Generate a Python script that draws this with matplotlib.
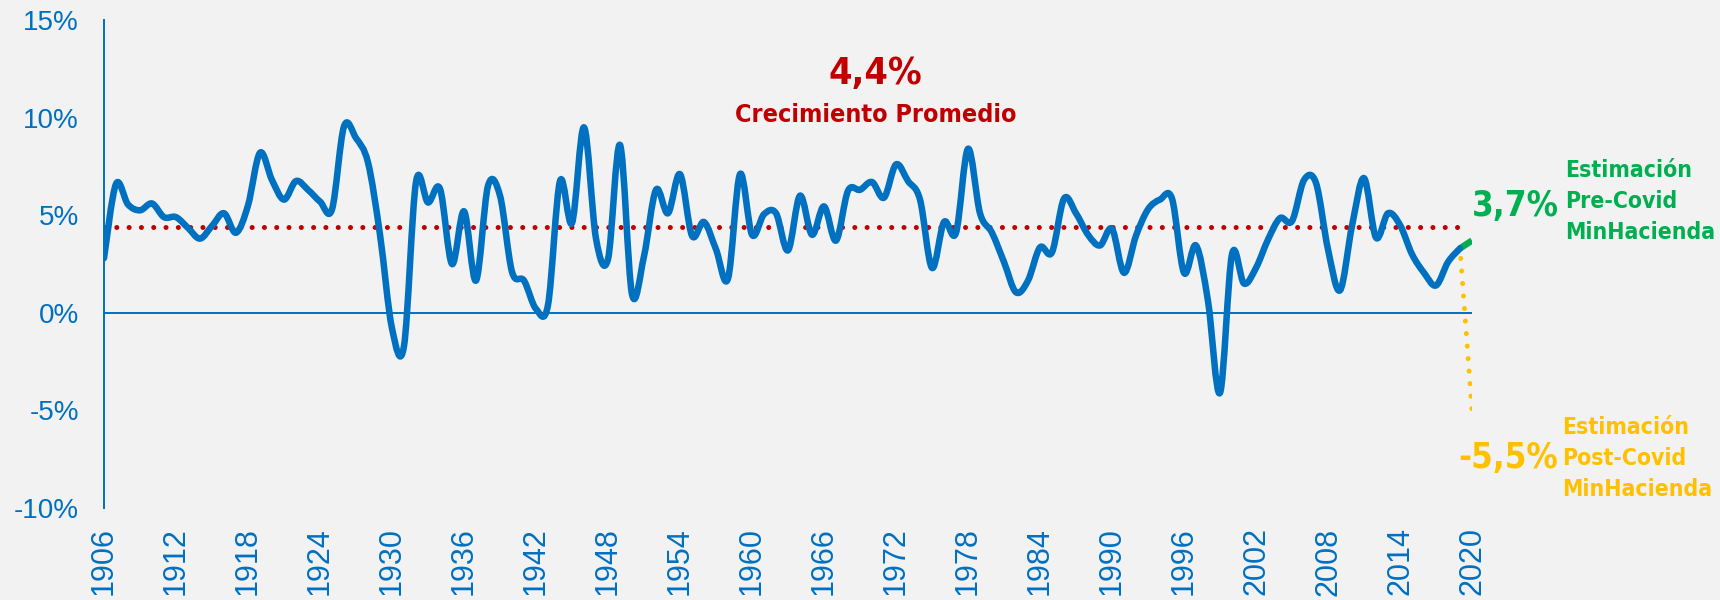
import matplotlib
matplotlib.use("Agg")
import matplotlib.pyplot as plt
from matplotlib import font_manager
from matplotlib.path import Path
from matplotlib.patches import PathPatch
import numpy as np

# Crecimiento anual del PIB (%)
anios = list(range(1906, 2020))
crecimiento = [
    2.8, 6.6, 5.55, 5.25, 5.6, 4.9, 4.9, 4.35, 3.8, 4.45,      # 1906-1915
    5.1, 4.1, 5.5, 8.2, 6.8, 5.8, 6.75, 6.3, 5.7, 5.3,         # 1916-1925
    9.55, 8.95, 7.7, 4.0, -0.8, -1.7, 6.7, 5.65, 6.35, 2.5,    # 1926-1935
    5.2, 1.65, 6.5, 6.0, 2.1, 1.65, 0.2, 0.4, 6.75, 4.6,       # 1936-1945
    9.5, 3.8, 2.75, 8.6, 0.95, 2.9, 6.3, 5.1, 7.1, 3.95,       # 1946-1955
    4.65, 3.25, 1.75, 7.1, 4.0, 5.05, 5.1, 3.2, 6.0, 4.0,      # 1956-1965
    5.45, 3.7, 6.25, 6.3, 6.7, 5.9, 7.6, 6.75, 5.8, 2.3,       # 1966-1975
    4.65, 4.1, 8.4, 5.1, 4.1, 2.6, 1.05, 1.65, 3.35, 3.1,      # 1976-1985
    5.85, 5.1, 4.0, 3.45, 4.3, 2.05, 3.95, 5.3, 5.8, 5.85,     # 1986-1995
    2.05, 3.45, 0.6, -4.1, 3.0, 1.5, 2.3, 3.75, 4.85, 4.7,     # 1996-2005
    6.8, 6.65, 3.25, 1.15, 4.45, 6.9, 3.85, 5.1, 4.5, 3.0,     # 2006-2015
    2.05, 1.4, 2.6, 3.3,                                       # 2016-2019
]
promedio = 4.4
anio_estim = 2020
pre_covid = 3.7
post_covid = -5.0   # donde termina la linea punteada en el grafico

xticks = list(range(1906, 2021, 6))
yticks = [-10, -5, 0, 5, 10, 15]

AZUL = '#0070C0'
ROJO = '#C00000'
VERDE = '#00B050'
NARANJA = '#FFC000'
FONDO = '#F2F2F2'

plt.rcParams['font.family'] = ['Liberation Sans', 'DejaVu Sans']

# buscar una fuente condensada instalada (si la hay)
condensadas = [f for f in font_manager.fontManager.ttflist
               if f.stretch in ('condensed', 'semi-condensed', 'extra-condensed')
               or 'Condensed' in f.name or 'Narrow' in f.name]
if condensadas:
    NARROW = [condensadas[0].name, 'DejaVu Sans']
    STRETCH = 'condensed'
else:
    NARROW = ['Roboto', 'DejaVu Sans']
    STRETCH = 'normal'

fig = plt.figure(figsize=(17.2, 6.0), dpi=100, facecolor=FONDO)
ax = fig.add_axes([104 / 1720, 92 / 600, 1368 / 1720, 488 / 600])
ax.set_facecolor(FONDO)


def curva_suave(xs, ys):
    # curva tipo "linea suavizada" de Excel (Bezier cubica)
    pts = np.column_stack([xs, ys]).astype(float)
    ext = np.vstack([pts[0], pts, pts[-1]])
    verts = [tuple(pts[0])]
    codes = [Path.MOVETO]
    for i in range(len(pts) - 1):
        p0, p1, p2, p3 = ext[i], ext[i + 1], ext[i + 2], ext[i + 3]
        c1 = p1 + (p2 - p0) / 6.0
        c2 = p2 - (p3 - p1) / 6.0
        verts += [tuple(c1), tuple(c2), tuple(p2)]
        codes += [Path.CURVE4] * 3
    return Path(verts, codes)


# linea del promedio
ax.plot([anios[0], anios[-1]], [promedio, promedio], color=ROJO, lw=3.6,
        linestyle=(0, (0.01, 2.45)), dash_capstyle='round', zorder=2)
# linea de cero
ax.plot([anios[0], anio_estim], [0, 0], color=AZUL, lw=1.4, zorder=1)

# serie historica
ax.add_patch(PathPatch(curva_suave(anios, crecimiento), fill=False,
                       edgecolor=AZUL, lw=4.7, capstyle='round',
                       joinstyle='round', zorder=3))

# estimaciones 2020
ax.plot([anios[-1], anio_estim], [crecimiento[-1], pre_covid], color=VERDE,
        lw=4.7, solid_capstyle='butt', zorder=2)
ax.plot([anios[-1], anio_estim], [crecimiento[-1], post_covid], color=NARANJA,
        lw=3.6, linestyle=(3, (0.01, 2.5)), dash_capstyle='round', zorder=2)

ax.set_xlim(1906, 2020)
ax.set_ylim(-10, 15)
ax.set_xticks(xticks)
ax.set_xticklabels([str(a) for a in xticks], rotation=90, va='top')
ax.set_yticks(yticks)
ax.set_yticklabels([f'{v}%' for v in yticks])
ax.tick_params(axis='both', length=0, labelcolor=AZUL)
ax.tick_params(axis='y', pad=18, labelsize=20)
ax.tick_params(axis='x', pad=14, labelsize=22)

for lado in ['top', 'right', 'bottom']:
    ax.spines[lado].set_visible(False)
ax.spines['left'].set_color(AZUL)
ax.spines['left'].set_linewidth(1.4)

# textos
ax.text(1970.3, 12.25, '4,4%', color=ROJO, fontsize=27, fontweight='bold',
        family=NARROW, fontstretch=STRETCH, ha='center', va='center')
ax.text(1970.3, 10.15, 'Crecimiento Promedio', color=ROJO, fontsize=18,
        fontweight='bold', family=NARROW, fontstretch=STRETCH,
        ha='center', va='center')

ax.text(2023.6, 5.45, '3,7%', color=VERDE, fontsize=25, fontweight='bold',
        family=NARROW, fontstretch=STRETCH, ha='center', va='center',
        clip_on=False)
ax.text(2027.8, 5.7, 'Estimación\nPre-Covid\nMinHacienda', color=VERDE,
        fontsize=16.5, fontweight='bold', family=NARROW, fontstretch=STRETCH,
        ha='left', va='center', linespacing=1.45, clip_on=False)

ax.text(2023.0, -7.45, '-5,5%', color=NARANJA, fontsize=25, fontweight='bold',
        family=NARROW, fontstretch=STRETCH, ha='center', va='center',
        clip_on=False)
ax.text(2027.5, -7.45, 'Estimación\nPost-Covid\nMinHacienda', color=NARANJA,
        fontsize=16.5, fontweight='bold', family=NARROW, fontstretch=STRETCH,
        ha='left', va='center', linespacing=1.45, clip_on=False)

fig.savefig('out.png', dpi=100, facecolor=FONDO)
